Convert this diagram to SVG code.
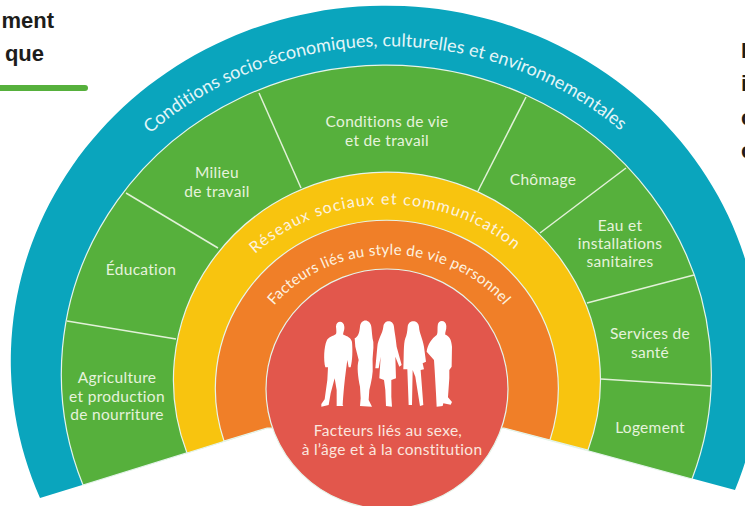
<svg xmlns="http://www.w3.org/2000/svg" width="745" height="506" viewBox="0 0 745 506">
<style>
text{font-family:"Lato","Liberation Sans",sans-serif}
.band{stroke:#e6f4ea;stroke-width:1.2}
.lbl{fill:#e6f3dc;font-size:15.5px;letter-spacing:.3px;text-anchor:middle}
.arc{fill:#fdf3e0;text-anchor:middle}
.hd{font-family:"Liberation Sans",Arial,sans-serif;font-weight:700;font-size:22px;fill:#1d1d1b}
.div{stroke:#e2f1d8;stroke-width:1.5;fill:none}
</style>
<defs>
<path id="pTeal" d="M140 143A346 323 0 0 1 634 143"/>
<path id="pYellow" d="M243 266A190 176 0 0 1 528 262"/>
<path id="pOrange" d="M262 322A145 130 0 0 1 516 322"/>
</defs>
<rect width="745" height="506" fill="#fff"/>
<g id="header">
<text class="hd" x="54" y="28" text-anchor="end">ment</text>
<text class="hd" x="44" y="61" text-anchor="end">que</text>
<line x1="-5" y1="88" x2="85" y2="88" stroke="#56b03c" stroke-width="6" stroke-linecap="round"/>
<text class="hd" x="741" y="58">I</text>
<text class="hd" x="741" y="91">i</text>
<text class="hd" x="741" y="125">c</text>
<text class="hd" x="741" y="158">c</text>
</g>
<g id="conditions">
<path d="M40 498A375 355 0 1 1 735 490L504 428H267Z" fill="#0aa5bd"/>
<text class="arc" style="fill:#e4f6f8" font-size="18" letter-spacing=".05"><textPath href="#pTeal" startOffset="49.6%">Conditions socio-économiques, culturelles et environnementales</textPath></text>
</g>
<g id="secteurs">
<path class="band" d="M83 485A325 309 0 1 1 692 479L504 428H267Z" fill="#56b03c"/>
</g>
<g id="connectors">
<line class="div" x1="67" y1="321" x2="176" y2="339"/>
<line class="div" x1="126" y1="193" x2="218" y2="248"/>
<line class="div" x1="259" y1="93" x2="301" y2="188"/>
<line class="div" x1="526" y1="97" x2="478" y2="191"/>
<line class="div" x1="626" y1="168" x2="540" y2="233"/>
<line class="div" x1="694" y1="275" x2="587" y2="303"/>
<line class="div" x1="601" y1="379" x2="711" y2="386"/>
</g>
<g id="agriculture"><text class="lbl" x="117" y="383">Agriculture</text><text class="lbl" x="117" y="402">et production</text><text class="lbl" x="117" y="420">de nourriture</text></g>
<g id="education"><text class="lbl" x="141" y="275">Éducation</text></g>
<g id="milieu"><text class="lbl" x="217" y="178">Milieu</text><text class="lbl" x="217" y="197">de travail</text></g>
<g id="vie"><text class="lbl" x="387" y="127">Conditions de vie</text><text class="lbl" x="387" y="146">et de travail</text></g>
<g id="chomage"><text class="lbl" x="543" y="185">Chômage</text></g>
<g id="eau"><text class="lbl" x="620" y="231">Eau et</text><text class="lbl" x="620" y="249">installations</text><text class="lbl" x="620" y="267">sanitaires</text></g>
<g id="sante"><text class="lbl" x="650" y="339">Services de</text><text class="lbl" x="650" y="358">santé</text></g>
<g id="logement"><text class="lbl" x="650" y="433">Logement</text></g>
<g id="reseaux">
<path class="band" d="M187 453A213.5 208 0 1 1 588 450L504 428H267Z" fill="#f8c40f"/>
<text class="arc" font-size="16" letter-spacing="1.2"><textPath href="#pYellow" startOffset="50%">Réseaux sociaux et communication</textPath></text>
</g>
<g id="style">
<path class="band" d="M224 441A171.5 168 0 1 1 550 440L504 428H267Z" fill="#f07f28"/>
<text class="arc" font-size="15" letter-spacing=".3"><textPath href="#pOrange" startOffset="50%">Facteurs liés au style de vie personnel</textPath></text>
</g>
<g id="centre">
<ellipse class="band" cx="387" cy="389" rx="121" ry="120" fill="#e2574c"/>
<g transform="translate(310 310) scale(.3333)" fill="#fff">
<path d="M78 50C78 30 102 30 103 50C104 62 98 68 100 74C112 78 124 84 126 96C128 120 128 150 122 172L116 172L112 150L108 180C104 210 100 250 98 285L100 288L80 288L80 240L74 205L62 250L56 285L34 290L34 282L44 268L52 210L54 172L46 172C40 150 42 110 50 92C54 82 70 78 78 72C80 68 79 60 78 50Z"/>
<path d="M150 50C152 25 180 25 184 50C186 65 186 80 190 96C192 120 186 140 188 165C190 190 184 215 178 240L176 270L186 290L150 288L152 265L150 230C144 200 140 170 146 150L136 110L134 85C144 80 148 70 150 50Z"/>
<path d="M220 50C222 28 250 28 252 50C254 70 258 85 260 110L275 165L268 170L256 140L258 205L244 210L244 260L246 290L228 288L226 240L222 210L208 205L212 140L206 175L196 175L202 110C204 85 218 72 220 50Z"/>
<path d="M293 50C295 28 325 28 327 50C328 70 338 85 342 110L348 155L338 160L342 178L332 180L340 285L330 288L316 200L308 180L306 285L296 285L292 178L280 178C282 140 280 100 286 85C290 75 292 65 293 50Z"/>
<path d="M383 48C383 28 408 28 409 48C410 60 404 68 406 74C418 78 424 88 426 110L425 170L418 180L418 205L414 262L426 276L422 284L400 280L398 288L380 290L378 250L374 180L372 150L350 125C352 105 366 85 380 75C384 70 382 58 383 48Z"/>
</g>
<text class="lbl" style="fill:#fbe6df;font-size:15.5px" x="388" y="436">Facteurs liés au sexe,</text>
<text class="lbl" style="fill:#fbe6df;font-size:15.5px" x="392" y="455">à l’âge et à la constitution</text>
</g>
</svg>
